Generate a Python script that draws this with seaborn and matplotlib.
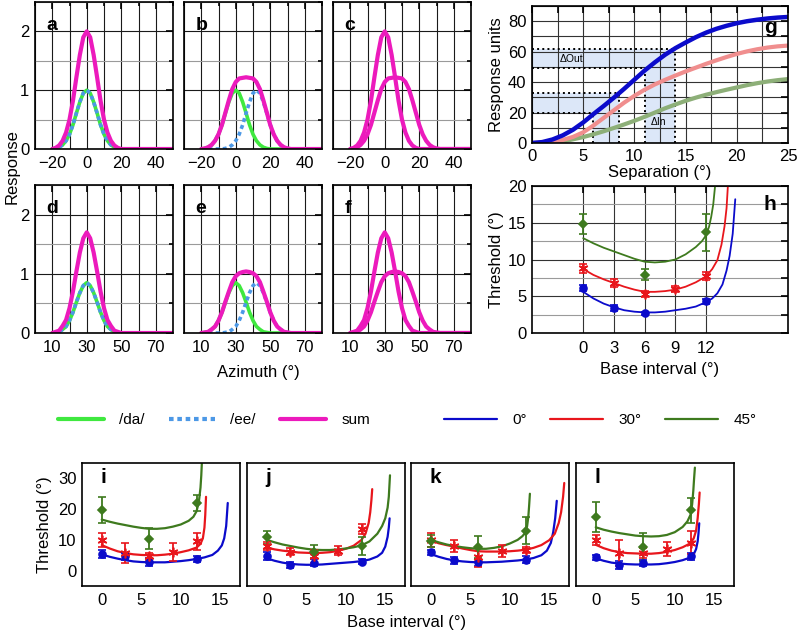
import numpy as np
import matplotlib
matplotlib.use("Agg")
import matplotlib.pyplot as plt
from matplotlib.ticker import MultipleLocator, FixedLocator
from matplotlib.lines import Line2D
import seaborn as sns

# ---------------- panels a-f : single-channel responses ----------------
azimuth_top = list(range(-20, 52, 2))
azimuth_bottom = list(range(10, 82, 2))

da_top = [0.00, 0.01, 0.03, 0.07, 0.14, 0.25, 0.41, 0.61, 0.80, 0.95, 1.00,
          0.95, 0.80, 0.61, 0.41, 0.25, 0.14, 0.07, 0.03, 0.01, 0.00,
          0.00, 0.00, 0.00, 0.00, 0.00, 0.00, 0.00, 0.00, 0.00, 0.00,
          0.00, 0.00, 0.00, 0.00, 0.00]
ee_top = [0.00, 0.00, 0.00, 0.00, 0.00, 0.00,
          0.00, 0.01, 0.03, 0.07, 0.14, 0.25, 0.41, 0.61, 0.80, 0.95, 1.00,
          0.95, 0.80, 0.61, 0.41, 0.25, 0.14, 0.07, 0.03, 0.01, 0.00,
          0.00, 0.00, 0.00, 0.00, 0.00, 0.00, 0.00, 0.00, 0.00]
da_bottom = [0.00, 0.01, 0.02, 0.06, 0.11, 0.21, 0.35, 0.52, 0.68, 0.80, 0.85,
             0.80, 0.68, 0.52, 0.35, 0.21, 0.11, 0.06, 0.02, 0.01, 0.00,
             0.00, 0.00, 0.00, 0.00, 0.00, 0.00, 0.00, 0.00, 0.00, 0.00,
             0.00, 0.00, 0.00, 0.00, 0.00]
ee_bottom = [0.00, 0.00, 0.00, 0.00, 0.00, 0.00,
             0.00, 0.01, 0.02, 0.06, 0.11, 0.21, 0.35, 0.52, 0.68, 0.80, 0.85,
             0.80, 0.68, 0.52, 0.35, 0.21, 0.11, 0.06, 0.02, 0.01, 0.00,
             0.00, 0.00, 0.00, 0.00, 0.00, 0.00, 0.00, 0.00, 0.00]

# ---------------- panel g : response vs separation ----------------
separation = list(range(0, 26))
resp_0 = [0, 0.6, 2.3, 5.0, 8.7, 13.5, 19.0, 24.3, 29.8, 35.6, 41.6, 47.6, 53.0,
          58.0, 62.3, 66.0, 69.5, 72.5, 75.0, 77.0, 78.7, 80.0, 81.0, 81.8, 82.4, 82.8]
resp_30 = [0, 0.2, 0.8, 2.0, 4.0, 7.0, 11.5, 16.5, 21.5, 26.5, 31.0, 35.0, 38.5,
           41.5, 44.3, 47.0, 49.5, 52.0, 54.3, 56.5, 58.5, 60.2, 61.6, 62.7, 63.5, 64.0]
resp_45 = [0, 0.1, 0.4, 1.0, 2.4, 3.9, 5.7, 7.7, 9.9, 12.2, 14.6, 17.2, 20.0,
           22.8, 25.3, 27.7, 29.8, 31.7, 33.4, 35.0, 36.5, 38.0, 39.3, 40.4, 41.3, 42.0]
guide_sep = [6, 8.5, 11, 14]
guide_resp = [20, 33, 49, 62]

# ---------------- panels h-l : thresholds vs base interval ----------------
base_0 = [0, 3, 6, 12]
base_30 = [0, 3, 6, 9, 12]
base_45 = [0, 6, 12]

h_pts_0 = [6.1, 3.4, 2.7, 4.3]
h_err_0 = [0.45, 0.35, 0.2, 0.3]
h_pts_30 = [8.8, 6.8, 5.3, 6.0, 7.8]
h_err_30 = [0.65, 0.6, 0.4, 0.4, 0.55]
h_pts_45 = [14.8, 7.9, 13.7]
h_err_45 = [1.35, 0.75, 2.55]
h_fit_0 = [(0, 5.6), (1, 4.7), (2, 4.0), (3, 3.5), (4, 3.1), (5, 2.9), (6, 2.8), (7, 2.8),
           (8, 2.9), (9, 3.1), (10, 3.3), (11, 3.6), (12, 4.2), (12.6, 4.7), (13.1, 5.4),
           (13.6, 6.6), (14.0, 8.5), (14.3, 10.5), (14.6, 13.5), (14.85, 18.2)]
h_fit_30 = [(0, 8.7), (1, 7.9), (2, 7.3), (3, 6.8), (4, 6.3), (5, 5.9), (6, 5.6), (7, 5.6),
            (8, 5.7), (9, 5.9), (10, 6.3), (11, 6.9), (12, 7.7), (12.6, 8.7), (13.1, 9.9),
            (13.5, 12.0), (13.8, 14.5), (14.0, 17.0), (14.15, 20.5)]
h_fit_45 = [(0, 12.9), (1, 12.2), (2, 11.6), (3, 11.1), (4, 10.6), (5, 10.1), (6, 9.7),
            (7, 9.6), (8, 9.7), (9, 10.0), (10, 10.7), (11, 11.7), (11.6, 12.5), (12, 13.3),
            (12.3, 14.5), (12.5, 15.8), (12.7, 17.5), (12.9, 20.3)]

i_pts_0 = [5.4, 4.6, 2.9, 3.7]
i_err_0 = [1.2, 1.0, 1.3, 0.9]
i_pts_30 = [10.0, 5.7, 4.6, 6.0, 9.5]
i_err_30 = [2.3, 3.2, 1.1, 3.0, 2.8]
i_pts_45 = [19.6, 10.4, 22.0]
i_err_45 = [4.2, 3.3, 2.6]
i_fit_0 = [(0, 5.3), (1, 4.5), (2, 3.9), (3, 3.4), (4, 3.0), (5, 2.8), (6, 2.7), (7, 2.7),
           (8, 2.7), (9, 2.9), (10, 3.1), (11, 3.4), (12, 3.8), (13, 4.3), (14, 5.1),
           (14.7, 6.5), (15.2, 8.2), (15.5, 10.5), (15.75, 14.5), (15.95, 22.0)]
i_fit_30 = [(0, 8.3), (1, 7.2), (2, 6.3), (3, 5.7), (4, 5.3), (5, 5.1), (6, 5.0), (7, 5.0),
            (8, 5.2), (9, 5.5), (10, 6.0), (11, 6.6), (12, 7.5), (12.5, 8.7), (12.8, 10.5),
            (13.0, 14.0), (13.1, 18.0), (13.2, 24.0)]
i_fit_45 = [(0, 16.6), (1, 15.9), (2, 15.3), (3, 14.8), (4, 14.3), (5, 13.9), (6, 13.6),
            (7, 13.6), (8, 13.8), (9, 14.3), (10, 15.0), (11, 16.2), (11.6, 17.5),
            (12.0, 19.3), (12.3, 22.5), (12.5, 27.0), (12.6, 31.0), (12.68, 35.5)]

j_pts_0 = [4.8, 1.9, 2.6, 2.9]
j_err_0 = [1.3, 0.9, 1.2, 0.9]
j_pts_30 = [8.0, 6.2, 4.6, 6.5, 13.5]
j_err_30 = [1.3, 1.1, 2.0, 1.4, 1.7]
j_pts_45 = [10.9, 6.2, 8.0]
j_err_45 = [2.1, 2.2, 2.8]
j_fit_0 = [(0, 4.0), (1, 3.2), (2, 2.6), (3, 2.2), (4, 2.0), (5, 1.9), (6, 1.9), (7, 2.0),
           (8, 2.2), (9, 2.4), (10, 2.6), (11, 2.8), (12, 3.1), (13, 3.6), (14, 4.6),
           (14.6, 5.8), (15.0, 7.8), (15.3, 11.0), (15.45, 14.0), (15.55, 17.0)]
j_fit_30 = [(0, 7.5), (1, 6.9), (2, 6.5), (3, 6.2), (4, 5.9), (5, 5.8), (6, 5.7), (7, 5.8),
            (8, 6.0), (9, 6.4), (10, 7.1), (11, 8.1), (12, 10.0), (12.5, 12.0), (12.9, 15.5),
            (13.1, 19.0), (13.25, 23.0), (13.35, 26.5)]
j_fit_45 = [(0, 10.0), (1, 9.2), (2, 8.5), (3, 8.0), (4, 7.5), (5, 7.1), (6, 6.8), (7, 6.7),
            (8, 6.7), (9, 6.9), (10, 7.2), (11, 7.6), (12, 8.2), (13, 9.5), (14, 12.0),
            (14.6, 14.5), (15.0, 17.0), (15.3, 20.5), (15.45, 24.0), (15.6, 31.0)]

k_pts_0 = [6.0, 3.3, 2.7, 3.5]
k_err_0 = [0.8, 1.1, 1.2, 1.1]
k_pts_30 = [10.0, 8.0, 4.5, 6.4, 6.7]
k_err_30 = [2.2, 2.0, 3.2, 2.0, 1.1]
k_pts_45 = [9.7, 7.6, 13.0]
k_err_45 = [1.9, 3.5, 4.4]
k_fit_0 = [(0, 5.4), (1, 4.5), (2, 3.8), (3, 3.3), (4, 3.0), (5, 2.8), (6, 2.7), (7, 2.7),
           (8, 2.8), (9, 2.9), (10, 3.1), (11, 3.3), (12, 3.6), (13, 4.1), (14, 5.0),
           (14.7, 6.5), (15.2, 9.0), (15.5, 12.5), (15.75, 17.0), (15.95, 22.7)]
k_fit_30 = [(0, 9.8), (1, 8.9), (2, 8.3), (3, 7.8), (4, 7.2), (5, 6.7), (6, 6.3), (7, 6.2),
            (8, 6.2), (9, 6.2), (10, 6.3), (11, 6.5), (12, 6.8), (13, 7.4), (14, 8.3),
            (15, 9.9), (15.7, 12.0), (16.2, 15.5), (16.5, 19.0), (16.75, 24.0), (16.9, 28.5)]
k_fit_45 = [(0, 10.0), (1, 9.2), (2, 8.5), (3, 8.0), (4, 7.6), (5, 7.3), (6, 7.1), (7, 7.1),
            (8, 7.4), (9, 7.9), (10, 8.8), (11, 10.0), (11.6, 11.2), (12.0, 12.4),
            (12.2, 14.5), (12.35, 17.5), (12.45, 21.0), (12.55, 25.0)]

l_pts_0 = [4.3, 1.8, 2.4, 4.6]
l_err_0 = [0.8, 1.4, 0.9, 1.1]
l_pts_30 = [10.0, 5.7, 5.7, 7.0, 9.1]
l_err_30 = [1.6, 4.1, 1.6, 2.2, 3.8]
l_pts_45 = [17.4, 7.6, 19.6]
l_err_45 = [4.9, 4.6, 4.0]
l_fit_0 = [(0, 4.0), (1, 3.2), (2, 2.6), (3, 2.3), (4, 2.1), (5, 2.0), (6, 2.0), (7, 2.0),
           (8, 2.1), (9, 2.4), (10, 2.8), (11, 3.4), (12, 4.3), (12.4, 5.3), (12.7, 7.0),
           (12.9, 9.5), (13.0, 12.0), (13.1, 15.4)]
l_fit_30 = [(0, 8.4), (1, 7.3), (2, 6.5), (3, 6.0), (4, 5.7), (5, 5.6), (6, 5.5), (7, 5.5),
            (8, 5.7), (9, 6.1), (10, 6.7), (11, 7.6), (12, 8.9), (12.4, 10.5), (12.7, 13.0),
            (12.9, 17.0), (13.05, 21.5), (13.15, 25.4)]
l_fit_45 = [(0, 14.1), (1, 13.3), (2, 12.7), (3, 12.2), (4, 11.8), (5, 11.4), (6, 11.2),
            (7, 11.1), (8, 11.2), (9, 11.6), (10, 12.5), (11, 14.2), (11.6, 16.0),
            (12.0, 18.2), (12.2, 21.5), (12.35, 26.0), (12.45, 30.0), (12.55, 33.5)]

GREEN_DA = "#3FE83F"
BLUE_EE = "#4C98E6"
PINK = "#EC1ABC"
C0 = "#0B0BCB"
C30 = "#E8161C"
C45 = "#3E7A1E"
SHADE = "#DCE7F8"

sns.set_style("white")
plt.rcParams["font.family"] = ["Liberation Sans", "DejaVu Sans"]
plt.rcParams["text.color"] = "black"
plt.rcParams["axes.labelcolor"] = "black"
plt.rcParams["xtick.color"] = "black"
plt.rcParams["ytick.color"] = "black"

W, H = 797, 635
fig = plt.figure(figsize=(W / 100, H / 100), dpi=100)


def px_axes(x, y, w, h):
    return fig.add_axes([x / W, 1 - (y + h) / H, w / W, h / H])


def line(ax, xs, ys, color, lw, **kw):
    sns.lineplot(x=list(xs), y=list(ys), ax=ax, color=color, lw=lw,
                 sort=False, estimator=None, legend=False, **kw)


def frame(ax, lw=1.2):
    for s in ax.spines.values():
        s.set_linewidth(lw)
        s.set_color("black")


def style_tuning(ax, xlim, xmajor, show_y, letter):
    ax.set_xlim(*xlim)
    ax.set_ylim(0, 2.5)
    ax.xaxis.set_major_locator(FixedLocator(xmajor))
    ax.xaxis.set_minor_locator(MultipleLocator(10))
    ax.yaxis.set_major_locator(MultipleLocator(1))
    ax.yaxis.set_minor_locator(MultipleLocator(0.5))
    ax.grid(which="major", color="#1a1a1a", lw=0.8)
    ax.grid(which="minor", axis="x", color="#1a1a1a", lw=0.8)
    ax.grid(which="minor", axis="y", color="#9a9a9a", lw=0.8)
    ax.set_axisbelow(True)
    ax.tick_params(which="both", direction="in", top=True, right=True,
                   labelsize=12, pad=5, width=1.2)
    ax.tick_params(which="major", length=5)
    ax.tick_params(which="minor", length=3)
    ax.tick_params(axis="y", pad=4)
    ax.tick_params(labelleft=show_y)
    frame(ax)
    ax.set_xlabel("")
    ax.set_ylabel("")
    ax.text(0.085, 0.81, letter, transform=ax.transAxes, fontsize=14,
            fontweight="bold", va="baseline")


# ---- a-c ----
sum_same_top = np.add(da_top, da_top)
sum_sep_top = np.add(da_top, ee_top)
sum_same_bot = np.add(da_bottom, da_bottom)
sum_sep_bot = np.add(da_bottom, ee_bottom)

dotted = (0, (1.1, 0.9))
for col, letter in enumerate("abc"):
    ax = px_axes(35 + col * 149, 2, 138, 147)
    if letter == "a":
        line(ax, azimuth_top, da_top, GREEN_DA, 2.6)
        line(ax, azimuth_top, da_top, BLUE_EE, 2.6, linestyle=dotted)
        line(ax, azimuth_top, sum_same_top, PINK, 3.0)
    elif letter == "b":
        line(ax, azimuth_top, da_top, GREEN_DA, 2.6)
        line(ax, azimuth_top, ee_top, BLUE_EE, 2.6, linestyle=dotted)
        line(ax, azimuth_top, sum_sep_top, PINK, 3.0)
    else:
        line(ax, azimuth_top, sum_same_top, PINK, 3.0)
        line(ax, azimuth_top, sum_sep_top, PINK, 3.0)
    style_tuning(ax, (-30, 50), [-20, 0, 20, 40], letter == "a", letter)

# ---- d-f ----
for col, letter in enumerate("def"):
    ax = px_axes(35 + col * 149, 185, 138, 148)
    if letter == "d":
        line(ax, azimuth_bottom, da_bottom, GREEN_DA, 2.6)
        line(ax, azimuth_bottom, da_bottom, BLUE_EE, 2.6, linestyle=dotted)
        line(ax, azimuth_bottom, sum_same_bot, PINK, 3.0)
    elif letter == "e":
        line(ax, azimuth_bottom, da_bottom, GREEN_DA, 2.6)
        line(ax, azimuth_bottom, ee_bottom, BLUE_EE, 2.6, linestyle=dotted)
        line(ax, azimuth_bottom, sum_sep_bot, PINK, 3.0)
    else:
        line(ax, azimuth_bottom, sum_same_bot, PINK, 3.0)
        line(ax, azimuth_bottom, sum_sep_bot, PINK, 3.0)
    style_tuning(ax, (0, 80), [10, 30, 50, 70], letter == "d", letter)

fig.text(12 / W, 1 - 167 / H, "Response", rotation=90, ha="center", va="center", fontsize=12)
fig.text(258 / W, 1 - 373 / H, "Azimuth (°)", ha="center", va="center", fontsize=12)

# ---- g ----
ax = px_axes(532, 6, 256, 137)
ax.fill_between([0, guide_sep[1]], guide_resp[0], guide_resp[1], color=SHADE, lw=0, zorder=0.2)
ax.fill_between([0, guide_sep[3]], guide_resp[2], guide_resp[3], color=SHADE, lw=0, zorder=0.2)
ax.fill_between([guide_sep[0], guide_sep[1]], 0, guide_resp[1], color=SHADE, lw=0, zorder=0.2)
ax.fill_between([guide_sep[2], guide_sep[3]], 0, guide_resp[3], color=SHADE, lw=0, zorder=0.2)
for sx, ry in zip(guide_sep, guide_resp):
    ax.plot([0, sx], [ry, ry], ls=":", color="black", lw=1.4, zorder=2)
    ax.plot([sx, sx], [0, ry], ls=":", color="black", lw=1.4, zorder=2)
line(ax, separation, resp_45, "#8DAF78", 3.0)
line(ax, separation, resp_30, "#F08E8E", 3.0)
line(ax, separation, resp_0, C0, 3.2)
ax.text(2.7, 53, "ΔOut", fontsize=7.5)
ax.text(11.6, 12, "ΔIn", fontsize=7.5)
ax.set_xlim(0, 25)
ax.set_ylim(0, 90)
ax.xaxis.set_major_locator(MultipleLocator(5))
ax.xaxis.set_minor_locator(MultipleLocator(2.5))
ax.yaxis.set_major_locator(MultipleLocator(20))
ax.yaxis.set_minor_locator(MultipleLocator(10))
ax.grid(which="both", color="#333333", lw=0.8)
ax.set_axisbelow(True)
ax.tick_params(which="both", direction="in", top=True, right=True, labelsize=12, pad=4, width=1.2)
ax.tick_params(which="major", length=5)
ax.tick_params(which="minor", length=5)
frame(ax)
ax.set_xlabel("Separation (°)", fontsize=12, labelpad=1)
ax.set_ylabel("Response units", fontsize=12, labelpad=3)
ax.text(0.955, 0.80, "g", transform=ax.transAxes, ha="right", va="baseline",
        fontsize=15, fontweight="bold")

# ---- h ----
bases = [base_0, base_30, base_45]
colors = [C0, C30, C45]
markers = ["o", (6, 2, 0), "D"]
msizes = [5, 7, 4]


def draw_thresholds(ax, fits, pts, errs, lw, capsize):
    for fit, c in zip(fits, colors):
        line(ax, [p[0] for p in fit], [p[1] for p in fit], c, lw)
    for b, y, e, c, m, ms in zip(bases, pts, errs, colors, markers, msizes):
        ax.errorbar(b, y, yerr=e, color=c, ls="none", marker=m, ms=ms, mew=1.2,
                    elinewidth=1.3, capsize=capsize, capthick=1.3, zorder=3)


ax = px_axes(532, 186, 256, 147)
draw_thresholds(ax, [h_fit_0, h_fit_30, h_fit_45],
                [h_pts_0, h_pts_30, h_pts_45], [h_err_0, h_err_30, h_err_45], 1.3, 3)
ax.set_xlim(-5, 20)
ax.set_ylim(0, 20)
ax.xaxis.set_major_locator(FixedLocator([0, 3, 6, 9, 12]))
ax.yaxis.set_major_locator(MultipleLocator(5))
ax.yaxis.set_minor_locator(MultipleLocator(2.5))
ax.grid(which="major", color="#333333", lw=0.8)
ax.grid(which="minor", axis="y", color="#9a9a9a", lw=0.8)
ax.set_axisbelow(True)
ax.tick_params(which="both", direction="in", top=True, right=True, labelsize=12, pad=4, width=1.2)
ax.tick_params(axis="x", pad=6)
ax.tick_params(which="major", length=5)
ax.tick_params(which="minor", length=5)
frame(ax)
ax.set_xlabel("Base interval (°)", fontsize=12, labelpad=4)
ax.set_ylabel("Threshold (°)", fontsize=12, labelpad=3)
ax.text(0.955, 0.837, "h", transform=ax.transAxes, ha="right", va="baseline",
        fontsize=15, fontweight="bold")

# ---- legends ----
fig.legend(handles=[Line2D([], [], color=GREEN_DA, lw=3),
                    Line2D([], [], color=BLUE_EE, lw=3, ls=dotted),
                    Line2D([], [], color=PINK, lw=3)],
           labels=["/da/", "/ee/", "sum"], loc="center",
           bbox_to_anchor=(214 / W, 1 - 420 / H), ncol=3, frameon=False,
           fontsize=11, handlelength=3.0, handletextpad=1.0, columnspacing=1.6)
fig.legend(handles=[Line2D([], [], color=c, lw=1.6) for c in colors],
           labels=["0°", "30°", "45°"], loc="center",
           bbox_to_anchor=(600 / W, 1 - 420 / H), ncol=3, frameon=False,
           fontsize=11, handlelength=3.5, handletextpad=1.0, columnspacing=1.5)

# ---- i-l ----
panel_fits = [[i_fit_0, i_fit_30, i_fit_45], [j_fit_0, j_fit_30, j_fit_45],
              [k_fit_0, k_fit_30, k_fit_45], [l_fit_0, l_fit_30, l_fit_45]]
panel_pts = [[i_pts_0, i_pts_30, i_pts_45], [j_pts_0, j_pts_30, j_pts_45],
             [k_pts_0, k_pts_30, k_pts_45], [l_pts_0, l_pts_30, l_pts_45]]
panel_errs = [[i_err_0, i_err_30, i_err_45], [j_err_0, j_err_30, j_err_45],
              [k_err_0, k_err_30, k_err_45], [l_err_0, l_err_30, l_err_45]]
lefts = [82, 247, 411, 576]

for n, letter in enumerate("ijkl"):
    ax = px_axes(lefts[n], 463, 158, 123)
    draw_thresholds(ax, panel_fits[n], panel_pts[n], panel_errs[n], 1.6, 3)
    ax.set_xlim(-2.5, 17.5)
    ax.set_ylim(-5, 35)
    ax.xaxis.set_major_locator(MultipleLocator(5))
    ax.xaxis.set_minor_locator(MultipleLocator(2.5))
    ax.yaxis.set_major_locator(MultipleLocator(10))
    ax.yaxis.set_minor_locator(MultipleLocator(5))
    ax.tick_params(which="both", direction="in", labelsize=12, pad=4, width=1.2)
    ax.tick_params(axis="x", pad=5)
    ax.tick_params(which="major", length=7)
    ax.tick_params(which="minor", length=5)
    ax.tick_params(labelleft=(n == 0))
    frame(ax)
    ax.set_xlabel("")
    ax.set_ylabel("Threshold (°)" if n == 0 else "", fontsize=12, labelpad=4)
    ax.text(0.116, 0.84, letter, transform=ax.transAxes, fontsize=15,
            fontweight="bold", va="baseline")

fig.text(407 / W, 1 - 622 / H, "Base interval (°)", ha="center", va="center", fontsize=12)

fig.savefig("out.png", dpi=100)
